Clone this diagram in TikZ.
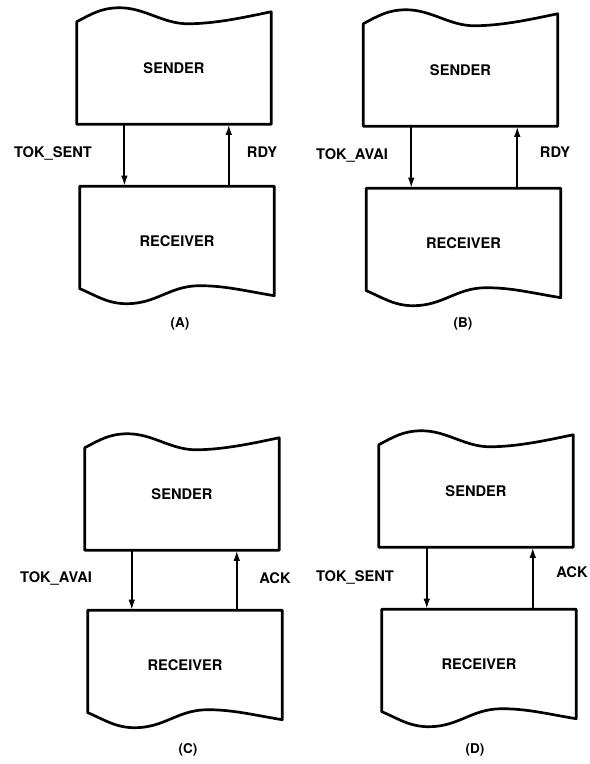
\documentclass[tikz,border=0pt]{standalone}
\usepackage{fontspec}
\setmainfont{TeX Gyre Heros}
\usetikzlibrary{arrows.meta,calc,positioning}
\tikzset{
  sender/.style={
    rectangle,
    draw=none,
    inner sep=0pt,
    minimum width=5.82cm,
    minimum height=3.36cm,
    font=\fontsize{12.5}{15}\selectfont\bfseries
  },
  receiver/.style={
    sender,
    minimum height=3.27cm
  },
  edge/.style={
    line width=2.3pt,
    line join=round
  },
  sig/.style={
    -{Latex[length=3.2mm,width=2mm]},
    line width=1.7pt
  },
  lbl/.style={
    font=\fontsize{12.5}{15}\selectfont\bfseries
  },
  caption/.style={
    font=\fontsize{11.5}{14}\selectfont\bfseries
  }
}
% wavy outlines round the named nodes
\newcommand{\sendershape}[1]{%
  \draw[edge] (#1.north east) -- (#1.south east) -- (#1.south west)
    -- ($(#1.north west)+(0,10)$)
    .. controls +(15,-8) and +(-18,0) .. ($(#1.north west)+(43,-4)$)
    .. controls +(25,0) and +(-25,0) .. ($(#1.north west)+(111,12)$)
    .. controls +(30,0) and +(-20,4) .. (#1.north east) -- cycle;}
\newcommand{\receivershape}[1]{%
  \draw[edge] ($(#1.south west)+(0,-7)$) -- (#1.north west) -- (#1.north east)
    -- (#1.south east)
    .. controls +(-30,-5) and +(25,0) .. ($(#1.south west)+(120,-10)$)
    .. controls +(-30,0) and +(30,0) .. ($(#1.south west)+(47,8)$)
    .. controls +(-20,0) and +(15,6) .. ($(#1.south west)+(0,-7)$) -- cycle;}

\begin{document}
\begin{tikzpicture}[x=0.03cm, y=-0.03cm]
\useasboundingbox (0,0) rectangle (589,764);

% (A)
\node[sender] (sA) at (174,68) {SENDER};
\node[receiver, below=1.86cm of sA, xshift=0.09cm] (rA) {RECEIVER};
\sendershape{sA}
\receivershape{rA}
\draw[sig] ([xshift=1.43cm]sA.south west) -- ([xshift=1.43cm]sA.south west |- rA.north);
\draw[sig] ([xshift=4.56cm]sA.south west |- rA.north) -- ([xshift=4.56cm]sA.south west);
\node[lbl] (tA) at (53,153) {TOK\_SENT};
\node[lbl] (yA) at (262,152) {RDY};
\node[caption] (cA) at (180,324) {(A)};

% (B)
\node[sender] (sB) at (460.5,70) {SENDER};
\node[receiver, below=1.86cm of sB, xshift=0.09cm] (rB) {RECEIVER};
\sendershape{sB}
\receivershape{rB}
\draw[sig] ([xshift=1.44cm]sB.south west) -- ([xshift=1.44cm]sB.south west |- rB.north);
\draw[sig] ([xshift=4.62cm]sB.south west |- rB.north) -- ([xshift=4.62cm]sB.south west);
\node[lbl] (tB) at (352,155) {TOK\_AVAI};
\node[lbl] (yB) at (555,152) {RDY};
\node[caption] (cB) at (463,324) {(B)};

% (C)
\node[sender] (sC) at (182,494) {SENDER};
\node[receiver, below=1.8cm of sC, xshift=0.09cm] (rC) {RECEIVER};
\sendershape{sC}
\receivershape{rC}
\draw[sig] ([xshift=1.41cm]sC.south west) -- ([xshift=1.41cm]sC.south west |- rC.north);
\draw[sig] ([xshift=4.56cm]sC.south west |- rC.north) -- ([xshift=4.56cm]sC.south west);
\node[lbl] (tC) at (56,578) {TOK\_AVAI};
\node[lbl] (yC) at (275,578) {ACK};
\node[caption] (cC) at (188,750) {(C)};

% (D)
\node[sender] (sD) at (476,491) {SENDER};
\node[receiver, below=1.86cm of sD, xshift=0.09cm] (rD) {RECEIVER};
\sendershape{sD}
\receivershape{rD}
\draw[sig] ([xshift=1.44cm]sD.south west) -- ([xshift=1.44cm]sD.south west |- rD.north);
\draw[sig] ([xshift=4.62cm]sD.south west |- rD.north) -- ([xshift=4.62cm]sD.south west);
\node[lbl] (tD) at (355,577) {TOK\_SENT};
\node[lbl] (yD) at (572,572) {ACK};
\node[caption] (cD) at (475,750) {(D)};
\end{tikzpicture}
\end{document}
